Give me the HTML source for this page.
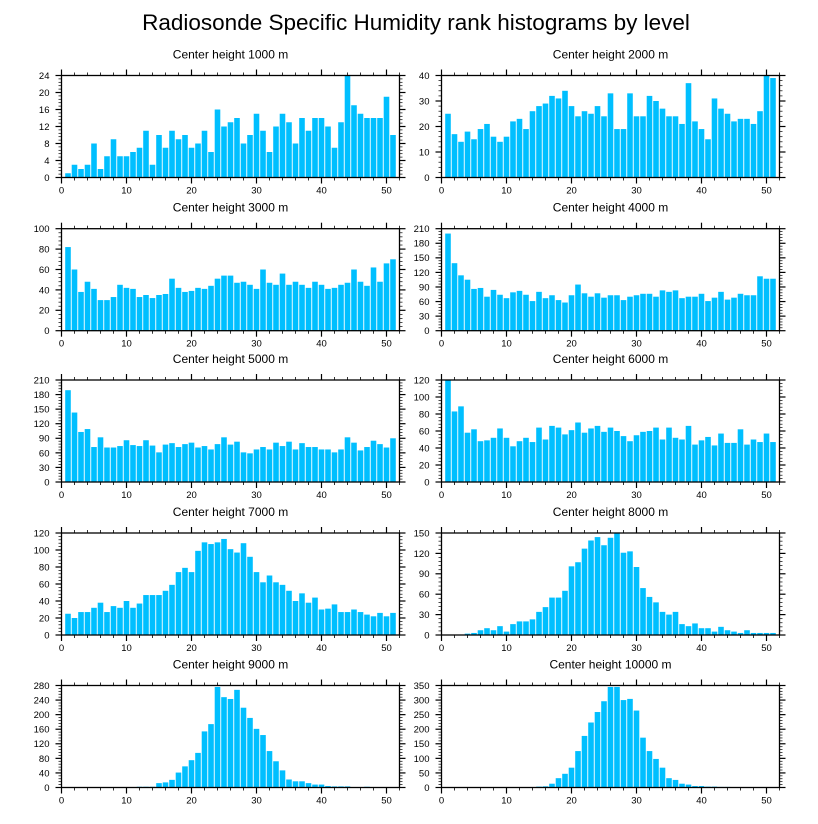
<!DOCTYPE html>
<html><head><meta charset="utf-8"><style>
html,body{margin:0;padding:0;background:#fff;}
svg{display:block;font-family:"Liberation Sans",sans-serif;}
</style></head><body>
<svg id="chart" width="818" height="824" viewBox="0 0 818 824" xmlns="http://www.w3.org/2000/svg">
<rect width="818" height="824" fill="#fff"/>
<text x="416" y="30" text-anchor="middle" font-size="22.5" fill="#000">Radiosonde Specific Humidity rank histograms by level</text>
</svg>
<script>
const titles = ["Center height 1000 m","Center height 2000 m","Center height 3000 m","Center height 4000 m","Center height 5000 m","Center height 6000 m","Center height 7000 m","Center height 8000 m","Center height 9000 m","Center height 10000 m"];
const yMax = [24,40,100,210,210,120,120,150,280,350];
const yStep = [4,10,20,30,30,20,20,30,40,50];
const xTicks = [0,10,20,30,40,50];
const h1000 = [1,3,2,3,8,2,5,9,5,5,6,7,11,3,10,7,11,9,10,7,8,11,6,16,12,13,14,8,10,15,11,6,12,15,13,8,14,11,14,14,12,7,13,24,17,15,14,14,14,19,10];
const h2000 = [25,17,14,18,15,19,21,16,14,16,22,23,19,26,28,29,32,31,34,28,24,26,25,28,24,33,19,19,33,24,24,32,30,27,24,24,21,37,22,19,15,31,27,25,22,23,23,21,26,40,39];
const h3000 = [82,60,38,48,41,30,30,33,45,42,41,33,35,32,35,36,51,42,38,39,42,41,44,51,54,54,47,48,45,41,60,47,45,56,45,48,45,42,48,45,41,42,45,47,60,48,44,62,48,66,70];
const h4000 = [200,139,114,105,86,88,70,84,74,67,79,82,74,61,80,67,73,63,58,73,95,77,70,77,68,73,73,63,70,73,76,76,70,83,80,83,67,70,70,76,61,68,80,64,68,76,73,73,112,107,107];
const h5000 = [189,143,103,109,72,92,71,71,74,86,76,74,86,75,61,77,80,72,78,81,71,74,67,78,92,77,83,61,59,67,72,67,81,74,83,67,80,72,72,67,67,61,67,92,81,65,72,85,78,71,90];
const h6000 = [120,83,89,58,62,48,49,52,63,52,42,48,52,47,64,50,66,64,56,61,70,58,63,66,59,64,60,54,48,55,59,60,64,50,64,52,50,66,44,49,53,43,57,46,46,62,44,50,47,57,47];
const h7000 = [25,20,27,27,32,38,27,34,32,40,32,37,47,47,47,52,59,74,79,74,99,109,107,109,113,101,97,108,92,74,62,70,62,59,52,40,49,38,44,30,31,36,27,27,30,27,24,22,26,22,26];
const h8000 = [0,0,0,2,3,7,10,7,13,5,16,20,20,23,34,41,55,55,65,101,107,127,139,144,132,143,150,121,123,100,69,56,48,34,30,34,16,13,17,10,10,5,12,7,5,3,7,3,3,3,3];
const h9000 = [0,0,0,0,0,0,0,0,1,0,0,2,2,2,12,14,21,41,58,75,95,154,174,276,248,243,268,219,191,161,144,100,72,47,22,17,17,12,8,8,4,3,3,3,1,0,2,0,0,0,0];
const h10000 = [0,0,0,0,0,0,0,0,0,0,0,0,0,0,3,4,13,32,47,68,125,177,223,259,296,345,345,300,304,264,171,125,98,68,32,26,13,10,5,5,3,3,2,2,1,0,0,0,0,0,0];
const series = [h1000,h2000,h3000,h4000,h5000,h6000,h7000,h8000,h9000,h10000];

const NS = "http://www.w3.org/2000/svg";
const svg = document.getElementById("chart");
function mk(tag, attrs, parent){ const e=document.createElementNS(NS,tag); for(const k in attrs) e.setAttribute(k,attrs[k]); parent.appendChild(e); return e; }

const colX = [61.5, 441.5], plotW = 338;
const rowTop = [75.5, 228.7, 380, 533, 685.5], plotH = 102;
const xMin = 0, xMax = 52;

series.forEach((vals, i) => {
  const L = colX[i%2], T = rowTop[Math.floor(i/2)], B = T + plotH, R = L + plotW;
  const xs = v => L + (v - xMin)/(xMax - xMin)*plotW;
  const ys = v => B - v/yMax[i]*plotH;
  const g = mk("g", {}, svg);
  
  
  const t = mk("text", {x:(L+R)/2, y:T-17, "text-anchor":"middle", "font-size":"12", fill:"#000"}, g);
  t.textContent = titles[i];
  
  
  const bw = (plotW/(xMax-xMin))*0.86;
  vals.forEach((v, k) => {
    if (v <= 0) return;
    const cx = xs(k+1);
    const r = mk("rect", {x:cx-bw/2, y:ys(v), width:bw, height:B-ys(v), fill:"#00bfff"}, g);
    
    
  });
  const frame = mk("rect", {x:L, y:T, width:plotW, height:plotH, fill:"none", stroke:"#000", "stroke-width":"1.3"}, g);
  
  
  for (let v=0; v<=xMax; v+=2) {
    const major = v%10===0, len = major?6:3, x = xs(v);
    mk("line", {x1:x, x2:x, y1:T, y2:T-len, stroke:"#000", "stroke-width":major?1.2:0.8}, g);
    mk("line", {x1:x, x2:x, y1:B, y2:B+len, stroke:"#000", "stroke-width":major?1.2:0.8}, g);
  }
  xTicks.forEach(v => {
    const tx = mk("text", {x:xs(v), y:B+16, "text-anchor":"middle", "font-size":"9.5", fill:"#000"}, g);
    tx.textContent = v;
    
    
  });
  const minor = yStep[i]/5;
  for (let j=0; j<=Math.round(yMax[i]/minor); j++) {
    const v = j*minor, major = j%5===0, len = major?6:3, y = ys(v);
    mk("line", {x1:L, x2:L-len, y1:y, y2:y, stroke:"#000", "stroke-width":major?1.2:0.7}, g);
    mk("line", {x1:R, x2:R+len, y1:y, y2:y, stroke:"#000", "stroke-width":major?1.2:0.7}, g);
  }
  for (let v=0; v<=yMax[i]; v+=yStep[i]) {
    const ty = mk("text", {x:L-12, y:ys(v)+3.4, "text-anchor":"end", "font-size":"9.5", fill:"#000"}, g);
    ty.textContent = v;
    
    
  }
});
</script>
</body></html>
